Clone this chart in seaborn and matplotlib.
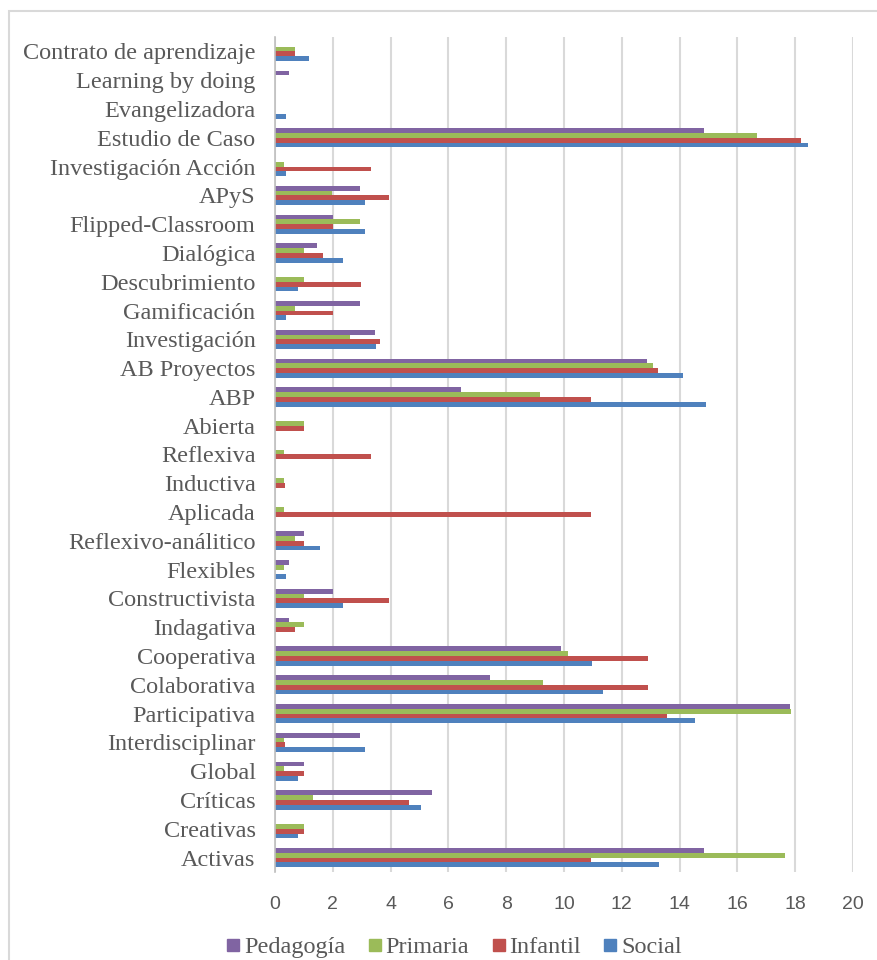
import matplotlib
matplotlib.use("Agg")
import matplotlib.pyplot as plt
from matplotlib.patches import Rectangle
from matplotlib.lines import Line2D
import seaborn as sns
import pandas as pd

categories = [
    "Contrato de aprendizaje", "Learning by doing", "Evangelizadora",
    "Estudio de Caso", "Investigación Acción", "APyS", "Flipped-Classroom",
    "Dialógica", "Descubrimiento", "Gamificación", "Investigación",
    "AB Proyectos", "ABP", "Abierta", "Reflexiva", "Inductiva", "Aplicada",
    "Reflexivo-análitico", "Flexibles", "Constructivista", "Indagativa",
    "Cooperativa", "Colaborativa", "Participativa", "Interdisciplinar",
    "Global", "Críticas", "Creativas", "Activas",
]

pedagogia = [0, 0.5, 0, 14.84, 0, 2.95, 2.0, 1.47, 0, 2.95, 3.45,
             12.88, 6.42, 0, 0, 0, 0, 0.99, 0.5, 2.0, 0.5,
             9.91, 7.45, 17.83, 2.95, 0.99, 5.43, 0, 14.84]
primaria = [0.68, 0, 0, 16.68, 0.31, 1.96, 2.95, 0.99, 0.99, 0.68, 2.6,
            13.07, 9.16, 0.99, 0.31, 0.31, 0.31, 0.68, 0.31, 0.99, 0.99,
            10.13, 9.27, 17.87, 0.31, 0.31, 1.3, 0.99, 17.65]
infantil = [0.68, 0, 0, 18.2, 3.32, 3.96, 2.0, 1.67, 2.99, 2.0, 3.63,
            13.25, 10.92, 0.99, 3.32, 0.35, 10.92, 0.99, 0, 3.96, 0.68,
            12.92, 12.92, 13.56, 0.35, 0.99, 4.64, 0.99, 10.92]
social = [1.18, 0, 0.39, 18.45, 0.39, 3.12, 3.12, 2.35, 0.8, 0.39, 3.51,
          14.12, 14.92, 0, 0, 0, 0, 1.55, 0.39, 2.35, 0,
          10.98, 11.35, 14.53, 3.12, 0.8, 5.06, 0.8, 13.3]

series_names = ["Pedagogía", "Primaria", "Infantil", "Social"]
series_values = [pedagogia, primaria, infantil, social]
series_colors = ["#8064A2", "#9BBB59", "#C0504D", "#4F81BD"]
x_ticks = [0, 2, 4, 6, 8, 10, 12, 14, 16, 18, 20]

rows = []
for name, vals in zip(series_names, series_values):
    for cat, v in zip(categories, vals):
        rows.append({"Categoría": cat, "Grupo": name, "Valor": v})
df = pd.DataFrame(rows)

sns.set_theme(style="white")
plt.rcParams["font.family"] = ["Liberation Serif", "DejaVu Serif"]

fig = plt.figure(figsize=(8.77, 9.60), dpi=100)
ax = fig.add_axes([275 / 877, 1 - 872 / 960, (853 - 275) / 877, (872 - 37) / 960])

palette = dict(zip(series_names, series_colors))
sns.barplot(data=df, y="Categoría", x="Valor", hue="Grupo",
            order=categories, hue_order=series_names, palette=palette,
            orient="h", width=0.667, saturation=1, errorbar=None,
            linewidth=0, ax=ax, legend=False)

ax.set_xlim(0, 20)
ax.set_ylim(len(categories) - 0.5, -0.5)
ax.set_xticks(x_ticks)
ax.set_xticklabels([str(t) for t in x_ticks], family=["Liberation Sans", "DejaVu Sans"],
                   fontsize=14, color="#595959")
ax.set_yticks(range(len(categories)))
ax.set_yticklabels(categories, fontsize=17.5, color="#595959")
ax.tick_params(axis="x", length=0, pad=17)
ax.tick_params(axis="y", length=0, pad=14)
ax.set_xlabel("")
ax.set_ylabel("")

ax.grid(axis="x", color="#D9D9D9", linewidth=1.5)
ax.set_axisbelow(True)
for side in ["top", "right", "bottom"]:
    ax.spines[side].set_visible(False)
ax.spines["left"].set_color("#BFBFBF")
ax.spines["left"].set_linewidth(1.2)

# chart frame
fig.add_artist(Rectangle((9 / 877, -0.05), 1.1, 1 - 11 / 960 + 0.05,
                         transform=fig.transFigure, fill=False,
                         edgecolor="#D9D9D9", linewidth=1.5))

handles = [Line2D([], [], marker="s", linestyle="none", markersize=8,
                  markerfacecolor=c, markeredgecolor=c) for c in series_colors]
fig.legend(handles, series_names, loc="center", bbox_to_anchor=(454 / 877, 1 - 947 / 960),
           ncol=4, frameon=False, fontsize=17.5, handlelength=0.6,
           handletextpad=0.15, columnspacing=0.9, labelcolor="#595959")

fig.savefig("out.png", dpi=100)
